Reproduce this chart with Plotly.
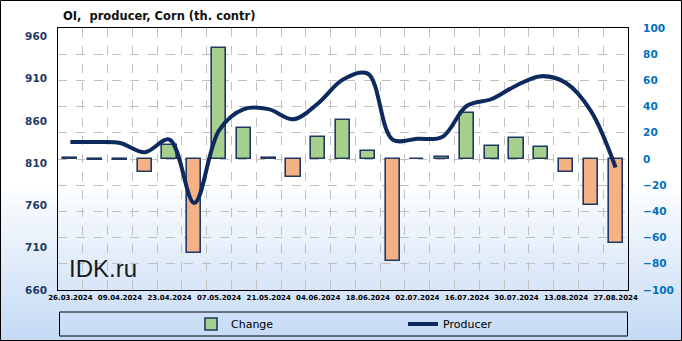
import plotly.graph_objects as go

# ---------------- data ----------------
dates = ["26.03.2024", "02.04.2024", "09.04.2024", "16.04.2024", "23.04.2024",
         "30.04.2024", "07.05.2024", "14.05.2024", "21.05.2024", "28.05.2024",
         "04.06.2024", "11.06.2024", "18.06.2024", "25.06.2024", "02.07.2024",
         "09.07.2024", "16.07.2024", "23.07.2024", "30.07.2024", "06.08.2024",
         "13.08.2024", "20.08.2024", "27.08.2024"]
change = [1, -1, -1, -10, 11, -72, 85, 24, 1, -14, 17, 30, 6, -78, 0,
          1.5, 35, 10, 16, 9, -10, -35, -64]
producer = [835, 835, 834, 823, 838, 763, 849, 874, 874, 862, 881, 909, 916,
            838, 839, 841, 878, 886, 902, 913, 905, 872, 805]
left_ticks = [660, 710, 760, 810, 860, 910, 960]
title_text = "OI,  producer, Corn (th. contr)"

# ---------------- layout constants ----------------
W, H = 682, 341
ML, MR, MT, MB = 58, 54, 28, 51
PW, PH = W - ML - MR, H - MT - MB

def px_x(x):
    return (x - ML) / PW

def px_y(y):
    return (H - MB - y) / PH

idx = list(range(len(dates)))
GREEN = "#a8d08d"
ORANGE = "#f4b183"
NAVY = "#1f3864"
bar_colors = [GREEN if v >= 0 else ORANGE for v in change]

fig = go.Figure()
fig.add_trace(go.Bar(
    x=idx, y=change, name="Change", width=0.57,
    marker=dict(color=bar_colors, line=dict(color=NAVY, width=1.6)),
    yaxis="y", legendrank=1,
))
fig.add_trace(go.Scatter(
    x=idx, y=producer, name="Producer", mode="lines",
    line=dict(color="#0d2a5f", width=4, shape="spline", smoothing=1.0),
    yaxis="y2", legendrank=2,
))

# background gradient (white -> light blue) over the whole chart
shapes = []
y_start, y_end = 180, H
n = 40
c0 = (255, 255, 255)
c1 = (196, 218, 245)
for i in range(n):
    ya = y_start + (y_end - y_start) * i / n
    yb = y_start + (y_end - y_start) * (i + 1) / n
    t = (i + 0.5) / n
    col = tuple(round(c0[k] + (c1[k] - c0[k]) * t) for k in range(3))
    shapes.append(dict(type="rect", xref="paper", yref="paper", layer="below",
                       x0=px_x(0), x1=px_x(W), y0=px_y(yb + 0.6), y1=px_y(ya),
                       fillcolor="rgb(%d,%d,%d)" % col, line=dict(width=0)))
# legend box
shapes.append(dict(type="rect", xref="paper", yref="paper", layer="above",
                   x0=px_x(59.5), x1=px_x(627.5), y0=px_y(336), y1=px_y(312),
                   line=dict(color="black", width=1), fillcolor="rgba(0,0,0,0)"))
# outer border
shapes.append(dict(type="rect", xref="paper", yref="paper", layer="above",
                   x0=px_x(0.5), x1=px_x(W - 0.5), y0=px_y(H - 0.5), y1=px_y(0.5),
                   line=dict(color="black", width=1), fillcolor="rgba(0,0,0,0)"))

fig.update_layout(
    width=W, height=H,
    margin=dict(l=ML, r=MR, t=MT, b=MB, pad=0, autoexpand=False),
    paper_bgcolor="white", plot_bgcolor="rgba(0,0,0,0)",
    showlegend=True, bargap=0,
    font=dict(family="DejaVu Sans", color="black"),
    title=dict(text="<b>" + title_text + "</b>", xref="container", x=63 / W,
               xanchor="left", yref="container", y=1 - 15.5 / H,
               yanchor="middle",
               font=dict(family="DejaVu Sans", size=11.5, color="#111111")),
    xaxis=dict(
        range=[-0.5, len(dates) - 0.5], tickmode="array",
        tickvals=idx[::2], ticktext=["<b>%s</b>" % d for d in dates[::2]],
        tickfont=dict(family="DejaVu Sans", size=7, color="black"),
        tickangle=0, ticks="", showgrid=False, zeroline=False,
        showline=True, linecolor="black", linewidth=1, mirror=True,
        ticklabelstandoff=1,
        minor=dict(tickmode="array", tickvals=[i + 0.5 for i in idx[:-1]],
                   showgrid=True, gridcolor="#c0c0c0", griddash="dash",
                   gridwidth=1, ticks=""),
    ),
    yaxis=dict(
        side="right", range=[-100, 100], dtick=20, tick0=0,
        tickfont=dict(family="DejaVu Sans", size=10.5, color="#0070c0"),
        tickprefix="<b>", ticksuffix="</b>",
        showgrid=True, gridcolor="#c0c0c0", griddash="dash", gridwidth=1,
        zeroline=False, ticks="", ticklabelstandoff=12,
        showline=True, linecolor="black", linewidth=1, mirror=True,
    ),
    yaxis2=dict(
        side="left", overlaying="y", range=[660, 970], tickmode="array",
        tickvals=left_ticks, ticktext=["<b>%d</b>" % v for v in left_ticks],
        tickfont=dict(family="DejaVu Sans", size=10.5, color=NAVY),
        showgrid=False, zeroline=False, ticks="", ticklabelstandoff=10,
        showline=False,
    ),
    legend=dict(orientation="h", x=px_x(191), xanchor="left", y=px_y(324),
                yanchor="middle", bgcolor="rgba(0,0,0,0)", borderwidth=0,
                font=dict(family="DejaVu Sans", size=11, color="black"),
                entrywidth=167, entrywidthmode="pixels", traceorder="normal"),
    annotations=[dict(text="IDK.ru", xref="paper", yref="paper",
                      x=px_x(67), y=px_y(268), xanchor="left", yanchor="middle",
                      showarrow=False,
                      font=dict(family="Liberation Sans", size=24, color="#1a1a1a"))],
    shapes=shapes,
)

fig.write_html("out.html")
